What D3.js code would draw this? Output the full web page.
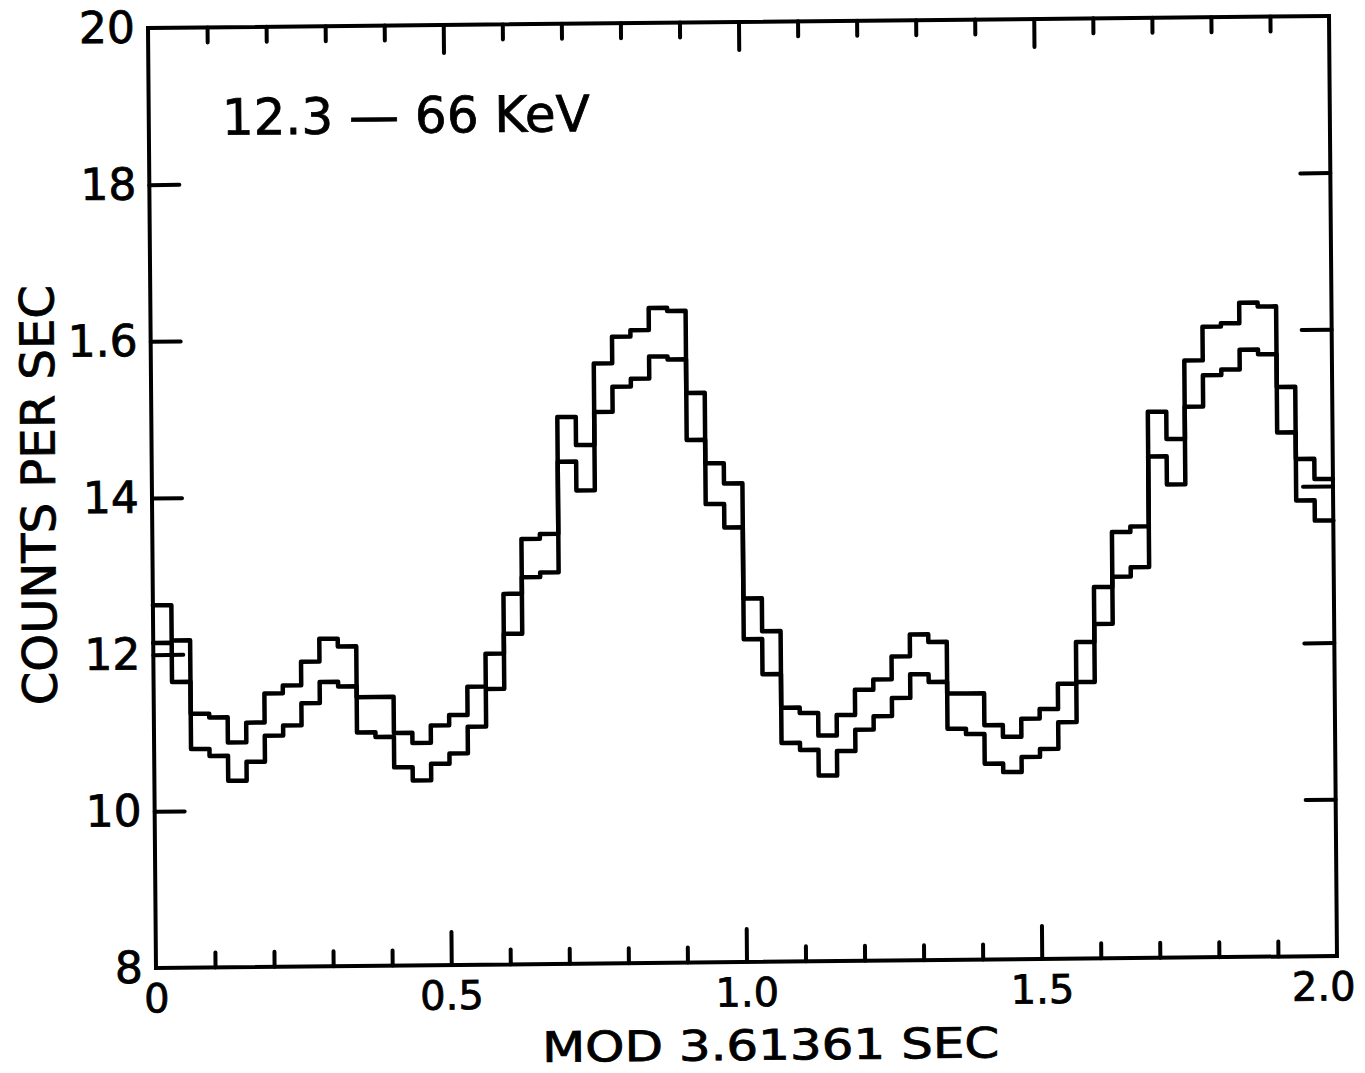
<!DOCTYPE html>
<html>
<head>
<meta charset="utf-8">
<script src="https://cdn.jsdelivr.net/npm/d3@7"></script>
<style>
  body { margin: 0; background: #fff; }
  svg text { font-family: "DejaVu Sans", sans-serif; fill: #000; }
</style>
</head>
<body>
<svg id="chart" width="1365" height="1073"></svg>
<script>
// Folded light curve: counts per second in 32 phase bins per cycle, two cycles shown.
// Upper and lower step curves bound each bin.
const binsPerCycle = 32;

const upperRate = [
  12.63, 12.18, 11.24, 11.19, 10.87, 11.12, 11.49, 11.59,
  11.89, 12.18, 12.08, 11.43, 11.43, 10.97, 10.84, 11.06,
  11.19, 11.55, 11.97, 12.73, 13.43, 13.49, 14.98, 14.62,
  15.66, 16.00, 16.08, 16.36, 16.32, 15.27, 14.37, 14.11,
  12.64, 12.22, 11.24, 11.17, 10.88, 11.14, 11.46, 11.59,
  11.88, 12.16, 12.06, 11.40, 11.40, 10.99, 10.84, 11.07,
  11.19, 11.51, 12.04, 12.74, 13.44, 13.51, 14.97, 14.62,
  15.62, 16.05, 16.09, 16.35, 16.30, 15.27, 14.35, 14.09
];

const lowerRate = [
  12.15, 11.65, 10.79, 10.70, 10.38, 10.62, 10.95, 11.08,
  11.36, 11.63, 11.57, 10.98, 10.92, 10.53, 10.36, 10.57,
  10.70, 11.04, 11.52, 12.22, 12.94, 13.00, 14.41, 14.04,
  15.04, 15.36, 15.46, 15.74, 15.70, 14.67, 13.85, 13.55,
  12.12, 11.67, 10.79, 10.70, 10.37, 10.68, 10.95, 11.12,
  11.35, 11.65, 11.55, 10.95, 10.88, 10.50, 10.39, 10.58,
  10.68, 11.02, 11.53, 12.27, 12.87, 12.99, 14.40, 14.04,
  15.03, 15.43, 15.50, 15.75, 15.69, 14.69, 13.82, 13.56
];

const yTickValues = [8, 10, 12, 14, 16, 18, 20];
const yTickLabels = ["8", "10", "12", "14", "1.6", "18", "20"];
const yInnerTicks = [10, 12, 14, 16, 18];

const xLabelValues = [0, 0.5, 1.0, 1.5, 2.0];
const xTickLabels = ["0", "0.5", "1.0", "1.5", "2.0"];
const xMajorTicks = [0.5, 1.0, 1.5];
const xMinorTicks = [0.1, 0.2, 0.3, 0.4, 0.6, 0.7, 0.8, 0.9,
                     1.1, 1.2, 1.3, 1.4, 1.6, 1.7, 1.8, 1.9];

const energyBand = "12.3 \u2014 66 KeV";
const xTitle = "MOD 3.61361 SEC";
const yTitle = "COUNTS PER SEC";

const svg = d3.select("#chart");
svg.append("rect").attr("width", 1365).attr("height", 1073).attr("fill", "#fff");

// The whole plate sits slightly askew on the page.
const g = svg.append("g").attr("transform", "matrix(1,-0.0102,0.0085,1,-4.2,6.55)");

const x = d3.scaleLinear().domain([0, 2]).range([152, 1333]);
const y = d3.scaleLinear().domain([8, 20]).range([963, 23]);

const ink = "#000";

function styleTicks(sel, width) {
  sel.select(".domain").remove();
  sel.selectAll(".tick line")
    .attr("stroke", ink)
    .attr("stroke-width", width)
    .attr("stroke-linecap", "round");
}

// inward tick marks on all four sides
g.append("g").attr("transform", `translate(0,${y(8)})`)
  .call(d3.axisBottom(x).tickValues(xMinorTicks).tickSize(-15).tickFormat(""))
  .call(s => styleTicks(s, 4));
g.append("g").attr("transform", `translate(0,${y(8)})`)
  .call(d3.axisBottom(x).tickValues(xMajorTicks).tickSize(-33).tickFormat(""))
  .call(s => styleTicks(s, 4));
g.append("g").attr("transform", `translate(0,${y(20)})`)
  .call(d3.axisTop(x).tickValues(xMinorTicks).tickSize(-15).tickFormat(""))
  .call(s => styleTicks(s, 4));
g.append("g").attr("transform", `translate(0,${y(20)})`)
  .call(d3.axisTop(x).tickValues(xMajorTicks).tickSize(-28).tickFormat(""))
  .call(s => styleTicks(s, 4));
g.append("g").attr("transform", `translate(${x(0)},0)`)
  .call(d3.axisLeft(y).tickValues(yInnerTicks).tickSize(-30).tickFormat(""))
  .call(s => styleTicks(s, 4));
g.append("g").attr("transform", `translate(${x(2)},0)`)
  .call(d3.axisRight(y).tickValues(yInnerTicks).tickSize(-30).tickFormat(""))
  .call(s => styleTicks(s, 4));

// frame
g.append("rect")
  .attr("x", x(0)).attr("y", y(20))
  .attr("width", x(2) - x(0)).attr("height", y(8) - y(20))
  .attr("fill", "none").attr("stroke", ink).attr("stroke-width", 4);

// tick labels
const yLab = g.append("g").attr("transform", `translate(${x(0)},0)`)
  .call(d3.axisLeft(y).tickValues(yTickValues).tickSize(0).tickPadding(13)
        .tickFormat((d, i) => yTickLabels[i]));
yLab.select(".domain").remove();
yLab.attr("font-family", null).attr("font-size", null);
yLab.selectAll("text").attr("font-size", 44).attr("stroke", ink).attr("stroke-width", 0.8);

const xLab = g.append("g").attr("transform", `translate(0,${y(8)})`)
  .call(d3.axisBottom(x).tickValues(xLabelValues).tickSize(0).tickPadding(16)
        .tickFormat((d, i) => xTickLabels[i]));
xLab.select(".domain").remove();
xLab.attr("font-family", null).attr("font-size", null);
xLab.selectAll("text").attr("font-size", 40).attr("stroke", ink).attr("stroke-width", 0.8)
  .attr("dx", d => d === 2 ? -14 : 0);

// step curves
const stepPoints = vals => {
  const pts = vals.map((v, i) => [i / binsPerCycle, v]);
  pts.push([vals.length / binsPerCycle, vals[vals.length - 1]]);
  return pts;
};
const stepLine = d3.line()
  .x(d => x(d[0])).y(d => y(d[1]))
  .curve(d3.curveStepAfter);

g.selectAll("path.rate")
  .data([upperRate, lowerRate])
  .join("path")
  .attr("class", "rate")
  .attr("d", d => stepLine(stepPoints(d)))
  .attr("fill", "none")
  .attr("stroke", ink)
  .attr("stroke-width", 4.5)
  .attr("stroke-linejoin", "round")
  .attr("stroke-linecap", "round");

// titles and band label
g.append("text")
  .attr("x", 409).attr("y", 130.6)
  .attr("text-anchor", "middle")
  .attr("font-size", 50)
  .attr("textLength", 368).attr("lengthAdjust", "spacingAndGlyphs")
  .attr("stroke", ink).attr("stroke-width", 0.8)
  .text(energyBand);

g.append("text")
  .attr("x", 766).attr("y", 1061)
  .attr("text-anchor", "middle")
  .attr("font-size", 42)
  .attr("textLength", 457).attr("lengthAdjust", "spacingAndGlyphs")
  .attr("stroke", ink).attr("stroke-width", 0.8)
  .text(xTitle);

g.append("text")
  .attr("transform", "translate(55,489) rotate(-90)")
  .attr("text-anchor", "middle")
  .attr("font-size", 47)
  .attr("textLength", 420).attr("lengthAdjust", "spacingAndGlyphs")
  .attr("stroke", ink).attr("stroke-width", 0.8)
  .text(yTitle);
</script>
</body>
</html>
